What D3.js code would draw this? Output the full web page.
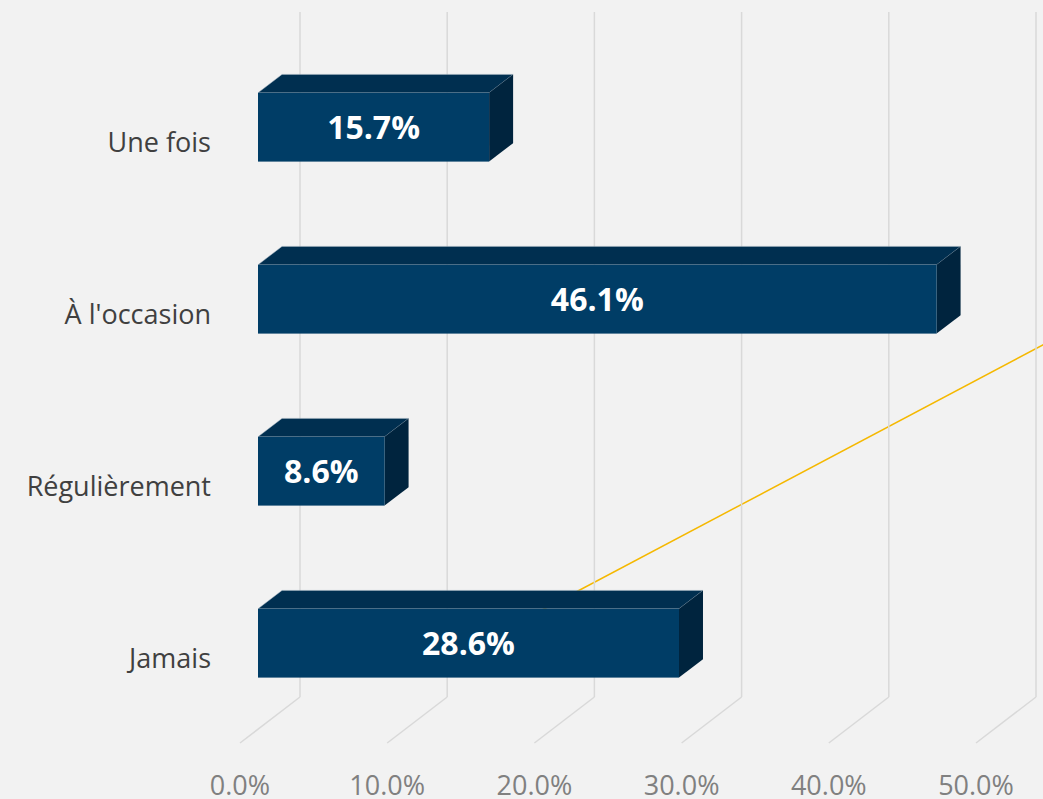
<!DOCTYPE html>
<html>
<head>
<meta charset="utf-8">
<script src="https://cdn.jsdelivr.net/npm/d3@7"></script>
<style>
    body { margin: 0; background: #f2f2f2; }
    svg { display: block; }
</style>
</head>
<body>
<script>
// categories top to bottom, percentages
var categories = ["Une fois", "À l'occasion", "Régulièrement", "Jamais"];
var values = [15.7, 46.1, 8.6, 28.6];
var ticks = [0, 10, 20, 30, 40, 50];
var tickLabels = ["0.0%", "10.0%", "20.0%", "30.0%", "40.0%", "50.0%"];

// stray yellow line: [value, category position]
var lineStart = [20, 2.75];
var lineEnd = [56, 1.12];

var width = 1043;
var height = 799;

// 3d depth: offset of the back wall from the front edge of the floor
var depthX = 60;
var depthY = -46;
var barFront = 0.3;
var barBack = 0.7;

var svg = d3.select("body").append("svg")
    .attr("width", width)
    .attr("height", height);

svg.append("rect")
    .attr("width", width)
    .attr("height", height)
    .attr("fill", "#f2f2f2");

var x = d3.scaleLinear().domain([0, 50]).range([240, 976]);
var y = d3.scaleBand().domain(categories).range([55, 743])
    .paddingInner(0.6).paddingOuter(0.3);
var bh = y.bandwidth();
var catPos = d3.scaleLinear().domain([0, categories.length - 1])
    .range([y(categories[0]) + bh / 2, y(categories[categories.length - 1]) + bh / 2]);

function px(v, d) { return x(v) + depthX * d; }
function py(yy, d) { return yy + depthY * d; }

var floorFront = y.range()[1];
var floorBack = floorFront + depthY;
var wallTop = 12;

// yellow line (behind gridlines and bars)
svg.append("line")
    .attr("x1", x(lineStart[0]))
    .attr("y1", catPos(lineStart[1]))
    .attr("x2", x(lineEnd[0]))
    .attr("y2", catPos(lineEnd[1]))
    .attr("stroke", "#f5b800")
    .attr("stroke-width", 1.5);

// gridlines: back wall + floor
var grid = svg.append("g").attr("class", "grid");
grid.selectAll(".wall")
    .data(ticks)
    .enter().append("line")
    .attr("x1", function (d) { return px(d, 1); })
    .attr("x2", function (d) { return px(d, 1); })
    .attr("y1", wallTop)
    .attr("y2", floorBack)
    .attr("stroke", "#d9d9d9")
    .attr("stroke-width", 1.5);

grid.selectAll(".floor")
    .data(ticks)
    .enter().append("line")
    .attr("x1", function (d) { return px(d, 1); })
    .attr("y1", floorBack)
    .attr("x2", function (d) { return px(d, 0); })
    .attr("y2", floorFront)
    .attr("stroke", "#d9d9d9")
    .attr("stroke-width", 1.5);

// tick labels
svg.selectAll(".tick")
    .data(ticks)
    .enter().append("text")
    .attr("x", function (d) { return x(d); })
    .attr("y", 795)
    .attr("text-anchor", "middle")
    .attr("font-family", "'Open Sans', sans-serif")
    .attr("font-size", 27)
    .attr("fill", "#808080")
    .text(function (d, i) { return tickLabels[i]; });

// category labels
svg.selectAll(".cat")
    .data(categories)
    .enter().append("text")
    .attr("x", x(0) - 29)
    .attr("y", function (d) { return y(d) + bh / 2 + 11; })
    .attr("text-anchor", "end")
    .attr("font-family", "'Open Sans', sans-serif")
    .attr("font-size", 27)
    .attr("fill", "#404040")
    .text(function (d) { return d; });

// bars
var bars = svg.selectAll(".bar")
    .data(categories.map(function (c, i) { return { cat: c, value: values[i] }; }))
    .enter().append("g")
    .attr("class", "bar");

function pts(arr) {
    return arr.map(function (p) { return p.join(","); }).join(" ");
}

// top face
bars.append("polygon")
    .attr("points", function (d) {
        var t = y(d.cat);
        return pts([
            [px(0, barFront), py(t, barFront)],
            [px(d.value, barFront), py(t, barFront)],
            [px(d.value, barBack), py(t, barBack)],
            [px(0, barBack), py(t, barBack)]
        ]);
    })
    .attr("fill", "#002f50")
    .attr("stroke", "#9fb0bf")
    .attr("stroke-width", 0.5);

// side face
bars.append("polygon")
    .attr("points", function (d) {
        var t = y(d.cat);
        return pts([
            [px(d.value, barFront), py(t, barFront)],
            [px(d.value, barBack), py(t, barBack)],
            [px(d.value, barBack), py(t + bh, barBack)],
            [px(d.value, barFront), py(t + bh, barFront)]
        ]);
    })
    .attr("fill", "#00243e");

// front face
bars.append("rect")
    .attr("x", px(0, barFront))
    .attr("y", function (d) { return py(y(d.cat), barFront); })
    .attr("width", function (d) { return x(d.value) - x(0); })
    .attr("height", bh)
    .attr("fill", "#003d66");

// value labels
bars.append("text")
    .attr("x", function (d) { return (px(0, barFront) + px(d.value, barFront)) / 2; })
    .attr("y", function (d) { return py(y(d.cat) + bh / 2, barFront) + 12; })
    .attr("text-anchor", "middle")
    .attr("font-family", "'Open Sans', sans-serif")
    .attr("font-weight", "bold")
    .attr("font-size", 32)
    .attr("fill", "#ffffff")
    .text(function (d) { return d.value.toFixed(1) + "%"; });
</script>
</body>
</html>
